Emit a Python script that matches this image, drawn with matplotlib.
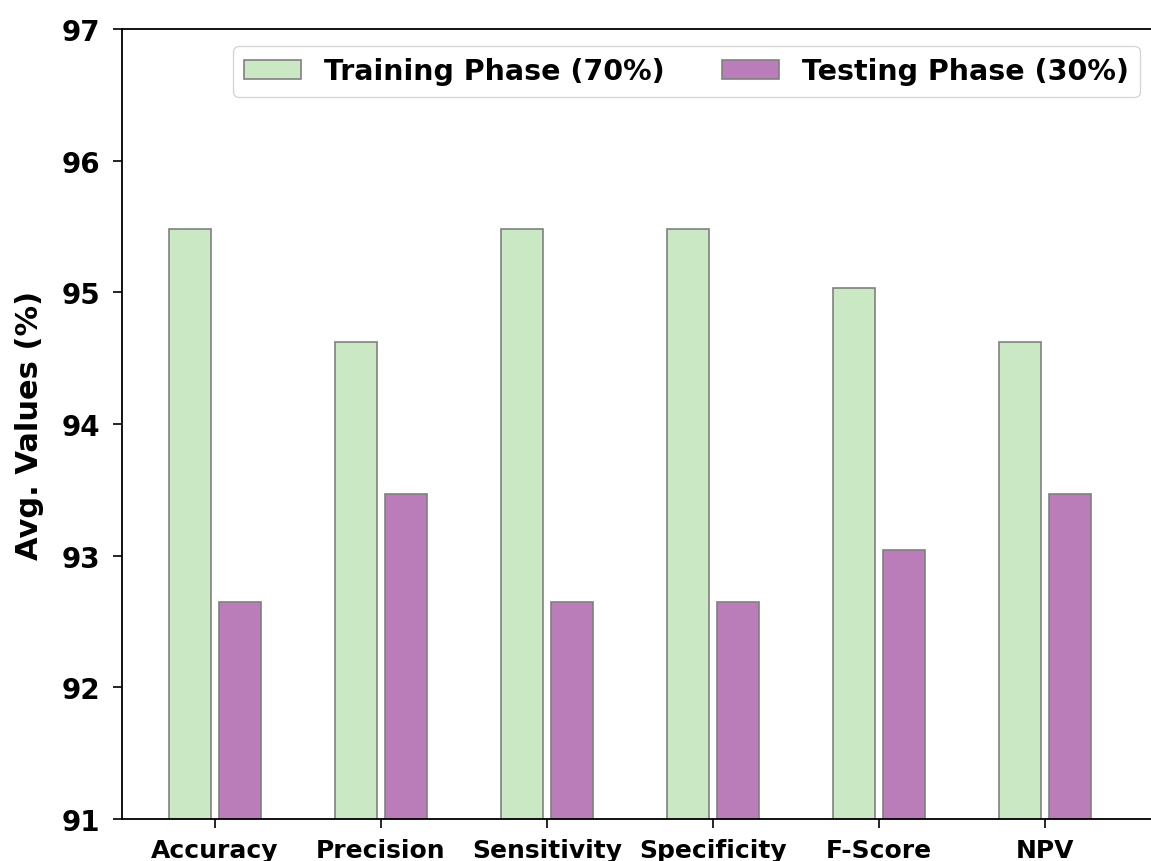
import matplotlib
matplotlib.use("Agg")
import matplotlib.pyplot as plt
import numpy as np

categories = ["Accuracy", "Precision", "Sensitivity", "Specificity", "F-Score", "NPV"]
training = [95.48, 94.62, 95.48, 95.48, 95.03, 94.62]
testing = [92.65, 93.47, 92.65, 92.65, 93.04, 93.47]
series_labels = ["Training Phase (70%)", "Testing Phase (30%)"]
yticks = [91, 92, 93, 94, 95, 96, 97]

fig = plt.figure(figsize=(11.51, 8.62), dpi=100)
ax = fig.add_axes([122/1151, 1-820/862, (1157-122)/1151, (820-30)/862])

x = np.arange(len(categories))
w = 0.25
ax.bar(x - 0.15, training, width=w, color="#cbe8c5", edgecolor="grey", linewidth=1.2, label=series_labels[0])
ax.bar(x + 0.15, testing, width=w, color="#bb7dba", edgecolor="grey", linewidth=1.2, label=series_labels[1])

ax.set_ylim(91, 97)
ax.set_xlim(-0.56, 5.675)
ax.set_yticks(yticks)
ax.set_yticklabels([str(v) for v in yticks], fontsize=20, fontweight="bold")
ax.set_xticks(x)
ax.set_xticklabels(categories, fontsize=18, fontweight="bold")
ax.set_ylabel("Avg. Values (%)", fontsize=22, fontweight="bold", labelpad=13)
ax.tick_params(axis="both", length=6.5, width=1.2)
ax.tick_params(axis="y", pad=9)
ax.tick_params(axis="x", pad=7)
for s in ax.spines.values():
    s.set_linewidth(1.3)

leg = ax.legend(loc="upper right", ncol=2, prop={"size": 20.5, "weight": "bold"},
                handlelength=2.0, columnspacing=2.0, borderaxespad=0.6)

fig.savefig("out.png", dpi=100)
